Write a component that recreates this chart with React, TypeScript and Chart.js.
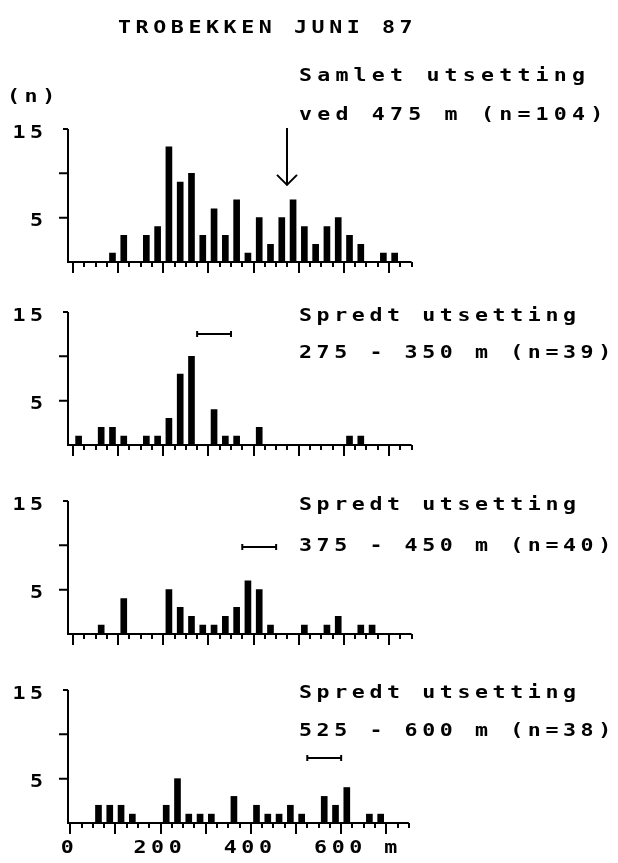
import React, { useEffect, useRef } from 'react';
import { Chart, registerables } from 'chart.js';

Chart.register(...registerables);

// ---------- data ----------
const BIN_STARTS = [0, 25, 50, 75, 100, 125, 150, 175, 200, 225, 250, 275, 300, 325, 350, 375, 400, 425, 450, 475, 500, 525, 550, 575, 600, 625, 650, 675, 700, 725];
const BIN_WIDTH = 25;

const COUNTS_SAMLET = [0, 0, 0, 1, 3, 0, 3, 4, 13, 9, 10, 3, 6, 3, 7, 1, 5, 2, 5, 7, 4, 2, 4, 5, 3, 2, 0, 1, 1, 0];
const COUNTS_275_350 = [1, 0, 2, 2, 1, 0, 1, 1, 3, 8, 10, 0, 4, 1, 1, 0, 2, 0, 0, 0, 0, 0, 0, 0, 1, 1, 0, 0, 0, 0];
const COUNTS_375_450 = [0, 0, 1, 0, 4, 0, 0, 0, 5, 3, 2, 1, 1, 2, 3, 6, 5, 1, 0, 0, 1, 0, 1, 2, 0, 1, 1, 0, 0, 0];
const COUNTS_525_600 = [0, 0, 2, 2, 2, 1, 0, 0, 2, 5, 1, 1, 1, 0, 3, 0, 2, 1, 1, 2, 1, 0, 3, 2, 4, 0, 1, 1, 0, 0];
const COUNTS = [COUNTS_SAMLET, COUNTS_275_350, COUNTS_375_450, COUNTS_525_600];

const TITLE = 'TROBEKKEN JUNI 87';
const Y_UNIT = '(n)';
const PANEL_LINES = [
  ['Samlet utsetting', 'ved 475 m (n=104)'],
  ['Spredt utsetting', '275 - 350 m (n=39)'],
  ['Spredt utsetting', '375 - 450 m (n=40)'],
  ['Spredt utsetting', '525 - 600 m (n=38)'],
];
const Y_TICKS = [5, 10, 15];
const Y_TICK_LABELS = ['5', '', '15'];
const X_TICK_VALUES = [0, 200, 400, 600];
const X_TICK_LABELS = ['0', '200', '400', '600'];
const X_UNIT = 'm';
const X_MAX = 750;
const Y_MAX = 15;
const MINOR_STEP = 25;
const MAJOR_STEP = 100;
const RELEASE_POINT = 475;
const RELEASE_RANGES = [null, [275, 350], [375, 450], [525, 600]];

// ---------- layout (page pixels) ----------
const PX_PER_M = 0.4515;
const AXIS_LEFT = 68;
const LAYOUT = [
  { top: 0, height: 292, areaTop: 129, areaBottom: 262, xMin: -11, textY: [76, 115], textPitch: 18.2, markY: 0 },
  { top: 292, height: 178, areaTop: 312, areaBottom: 445, xMin: -11, textY: [316, 353], textPitch: 17.6, markY: 12.5 },
  { top: 470, height: 190, areaTop: 501, areaBottom: 634, xMin: -11, textY: [505, 546], textPitch: 17.6, markY: 9.8 },
  { top: 660, height: 203, areaTop: 690, areaBottom: 823, xMin: -5, textY: [693, 731], textPitch: 17.6, markY: 7.3 },
];
const FONT = 'bold 18px "DejaVu Sans Mono"';
const HSCALE = 1.2;
const PITCH = 17.6;
const TEXT_LEFT = 299;

function drawText(
  ctx: CanvasRenderingContext2D,
  text: string,
  x: number,
  y: number,
  align: 'left' | 'center' | 'right' = 'left',
  pitch: number = PITCH
) {
  ctx.save();
  ctx.font = FONT;
  ctx.textBaseline = 'middle';
  ctx.textAlign = 'left';
  ctx.fillStyle = '#000';
  (ctx as any).letterSpacing = '0px';
  const adv = ctx.measureText('0').width;
  const spacing = pitch / HSCALE - adv;
  (ctx as any).letterSpacing = spacing + 'px';
  const w = (ctx.measureText(text).width - spacing) * HSCALE;
  let lx = x;
  if (align === 'center') lx = x - w / 2;
  if (align === 'right') lx = x - w;
  ctx.translate(lx, y);
  ctx.scale(HSCALE, 1);
  ctx.fillText(text, 0, 0);
  ctx.restore();
}

function Panel({ index }: { index: number }) {
  const ref = useRef<HTMLCanvasElement>(null);
  const L = LAYOUT[index];
  useEffect(() => {
    const counts = COUNTS[index];
    const right = AXIS_LEFT + (X_MAX - L.xMin) * PX_PER_M;
    const decor = {
      id: 'decor' + index,
      afterDraw(chart: any) {
        const ctx: CanvasRenderingContext2D = chart.ctx;
        const xs = chart.scales.x;
        const ys = chart.scales.y;
        const x0 = chart.chartArea.left;
        const x1 = chart.chartArea.right;
        const yb = ys.getPixelForValue(0);
        const yt = ys.getPixelForValue(Y_MAX);
        ctx.save();
        ctx.strokeStyle = '#000';
        ctx.lineWidth = 2;
        ctx.lineCap = 'butt';
        ctx.beginPath();
        ctx.moveTo(x0, yt);
        ctx.lineTo(x0, yb);
        ctx.lineTo(x1, yb);
        Y_TICKS.forEach((v) => {
          const y = ys.getPixelForValue(v);
          ctx.moveTo(x0 - (v === Y_MAX ? 5 : 9), y);
          ctx.lineTo(x0, y);
        });
        for (let v = 0; v <= X_MAX; v += MINOR_STEP) {
          const x = Math.round(xs.getPixelForValue(v));
          ctx.moveTo(x, yb);
          ctx.lineTo(x, yb + (v % MAJOR_STEP === 0 ? 11 : 5));
        }
        ctx.stroke();

        // y tick labels
        Y_TICKS.forEach((v, i) => {
          const lab = Y_TICK_LABELS[i];
          if (!lab) return;
          drawText(ctx, lab, 43, ys.getPixelForValue(v) + 4, 'right');
        });

        // panel text
        drawText(ctx, PANEL_LINES[index][0], TEXT_LEFT, L.textY[0] - L.top, 'left', L.textPitch);
        drawText(ctx, PANEL_LINES[index][1], TEXT_LEFT, L.textY[1] - L.top, 'left', L.textPitch);

        if (index === 0) {
          drawText(ctx, TITLE, 118, 28);
          drawText(ctx, Y_UNIT, 7, 97);
          // arrow at release point
          const ax = Math.round(xs.getPixelForValue(RELEASE_POINT));
          const tip = ys.getPixelForValue(8.7);
          ctx.beginPath();
          ctx.moveTo(ax, ys.getPixelForValue(15.1));
          ctx.lineTo(ax, tip);
          ctx.moveTo(ax - 10, tip - 10);
          ctx.lineTo(ax, tip);
          ctx.lineTo(ax + 10, tip - 10);
          ctx.stroke();
        }
        const rng = RELEASE_RANGES[index];
        if (rng) {
          const y = Math.round(ys.getPixelForValue(L.markY));
          const xa = xs.getPixelForValue(rng[0]);
          const xb = xs.getPixelForValue(rng[1]);
          ctx.beginPath();
          ctx.moveTo(xa, y);
          ctx.lineTo(xb, y);
          ctx.moveTo(xa, y - 3);
          ctx.lineTo(xa, y + 3);
          ctx.moveTo(xb, y - 3);
          ctx.lineTo(xb, y + 3);
          ctx.stroke();
        }
        if (index === LAYOUT.length - 1) {
          const ly = 848 - L.top;
          X_TICK_VALUES.forEach((v, i) => {
            drawText(ctx, X_TICK_LABELS[i], xs.getPixelForValue(v) - 3, ly, 'center');
          });
          drawText(ctx, X_UNIT, xs.getPixelForValue(710), ly, 'center');
        }
        ctx.restore();
      },
    };
    const chart = new Chart(ref.current as HTMLCanvasElement, {
      type: 'bar',
      data: {
        datasets: [
          {
            data: BIN_STARTS.map((s, i) => ({ x: s + BIN_WIDTH / 2, y: counts[i] })),
            backgroundColor: '#000',
            borderWidth: 0,
            barThickness: 6,
          } as any,
        ],
      },
      options: {
        responsive: false,
        animation: false,
        events: [],
        layout: {
          padding: {
            left: AXIS_LEFT,
            right: 618 - right,
            top: L.areaTop - L.top,
            bottom: L.top + L.height - L.areaBottom,
          },
        },
        scales: {
          x: { type: 'linear', min: L.xMin, max: X_MAX, offset: false, display: false },
          y: { type: 'linear', min: 0, max: Y_MAX, display: false },
        },
        plugins: {
          legend: { display: false },
          tooltip: { enabled: false },
          title: { display: false },
        },
      } as any,
      plugins: [decor],
    });
    return () => chart.destroy();
  }, [index]);
  return (
    <canvas
      ref={ref}
      width={618}
      height={L.height}
      style={{ position: 'absolute', left: 0, top: L.top, width: 618, height: L.height, display: 'block' }}
    />
  );
}

export default function App() {
  return (
    <div style={{ position: 'absolute', left: 0, top: 0, width: 618, height: 863, background: '#fff', overflow: 'hidden' }}>
      {LAYOUT.map((_, i) => (
        <Panel key={i} index={i} />
      ))}
    </div>
  );
}
